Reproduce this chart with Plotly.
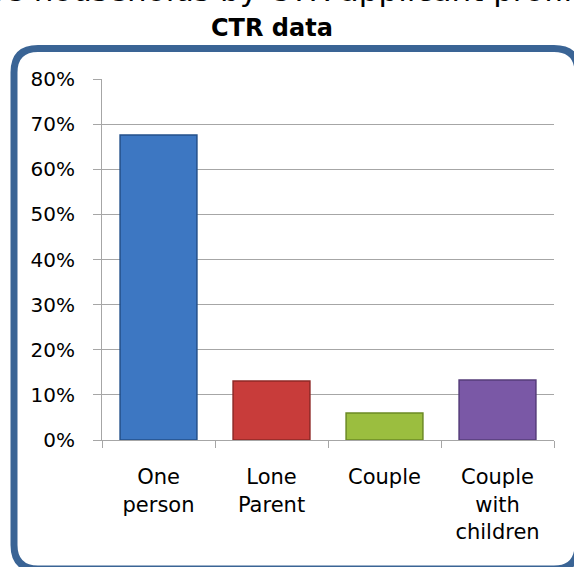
import plotly.graph_objects as go

categories = ["One<br>person", "Lone<br>Parent", "Couple", "Couple<br>with<br>children"]
values = [67.6, 13.1, 6.0, 13.3]
bar_colors = ["#3D77C2", "#C83C3A", "#9BBE3F", "#7A58A6"]
edge_colors = ["#23508A", "#8E2826", "#6C8A25", "#553C7A"]
y_ticks = [0, 10, 20, 30, 40, 50, 60, 70, 80]
y_tick_labels = [f"{v}%" for v in y_ticks]
title_line1 = "Those households by CTR applicant profile"
title_line2 = "CTR data"

W, H = 574, 567
L, R, T, B = 102, 554, 79, 440


def px(x):
    return (x - L) / (R - L)


def py(y):
    return (B - y) / (B - T)


fig = go.Figure()
fig.add_trace(go.Bar(
    x=categories, y=values,
    marker=dict(color=bar_colors, line=dict(color=edge_colors, width=1.5)),
    width=0.68,
    hoverinfo="skip",
))

# rounded border (runs past the right and bottom edges, as in the reference)
l, t, r, b, rad = 14, 48.5, 578, 569, 24
path = (
    f"M {px(l)},{py(t+rad)} "
    f"Q {px(l)},{py(t)} {px(l+rad)},{py(t)} "
    f"L {px(r-rad)},{py(t)} "
    f"Q {px(r)},{py(t)} {px(r)},{py(t+rad)} "
    f"L {px(r)},{py(b-rad)} "
    f"Q {px(r)},{py(b)} {px(r-rad)},{py(b)} "
    f"L {px(l+rad)},{py(b)} "
    f"Q {px(l)},{py(b)} {px(l)},{py(b-rad)} Z"
)
fig.add_shape(type="path", path=path, xref="paper", yref="paper",
              line=dict(color="#3A6495", width=7), layer="below")

fig.add_annotation(
    text=title_line1, x=px(260), y=py(7), xref="paper", yref="paper",
    xanchor="center", yanchor="bottom", showarrow=False,
    font=dict(family="DejaVu Sans", size=31, color="black"),
    yshift=-3,
)
fig.add_annotation(
    text=f"<b>{title_line2}</b>", x=px(272), y=py(36), xref="paper", yref="paper",
    xanchor="center", yanchor="bottom", showarrow=False,
    font=dict(family="DejaVu Sans", size=24, color="black"),
    yshift=-8,
)

fig.update_layout(
    width=W, height=H,
    margin=dict(l=L, r=W - R, t=T, b=H - B, pad=0, autoexpand=False),
    paper_bgcolor="white", plot_bgcolor="white",
    showlegend=False,
    bargap=0.32,
    font=dict(family="DejaVu Sans", size=20, color="black"),
)
fig.update_yaxes(
    range=[0, 80], tickvals=y_ticks, ticktext=y_tick_labels,
    showgrid=True, gridcolor="#A6A6A6", gridwidth=1,
    showline=True, linecolor="#A6A6A6", linewidth=1,
    ticks="outside", ticklen=8, tickcolor="#A6A6A6",
    ticklabelstandoff=14, zeroline=False, fixedrange=True,
    tickfont=dict(size=20),
)
fig.update_xaxes(
    showline=True, linecolor="#A6A6A6", linewidth=1,
    ticks="outside", ticklen=7, tickcolor="#A6A6A6", tickson="boundaries",
    showgrid=False, fixedrange=True, ticklabelstandoff=18,
    tickfont=dict(size=21),
)

fig.write_html("out.html", config={"displayModeBar": False},
               post_script="document.body.style.margin='0';")
